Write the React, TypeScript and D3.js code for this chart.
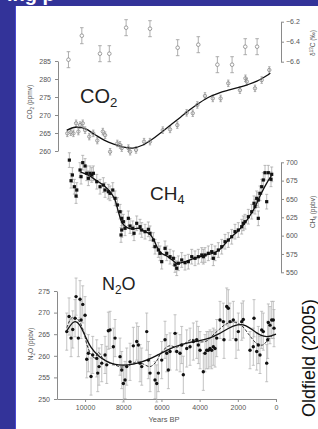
import React, { useRef, useEffect } from 'react';
import * as d3 from 'd3';

// axis ticks
const xTicks = [10000, 8000, 6000, 4000, 2000, 0];
const co2Ticks = [285, 280, 275, 270, 265, 260];
const d13cTicks = [-6.2, -6.4, -6.6];
const ch4Ticks = [700, 675, 650, 625, 600, 575, 550];
const n2oTicks = [275, 270, 265, 260, 255, 250];

// delta 13C of CO2 (permil)
const d13cYears = [10870, 10170, 9220, 8730, 7850, 6600, 5150, 4070, 3070, 2300, 1610, 990];
const d13cValues = [-6.58, -6.34, -6.52, -6.52, -6.26, -6.27, -6.46, -6.43, -6.63, -6.63, -6.45, -6.45];

// CO2 (ppmv)
const co2Years = [10930, 10750, 10610, 10470, 10350, 10260, 10120, 10000, 9780, 9570, 9360, 9070, 8950, 8690, 8310, 8170, 8080, 7730, 7640, 7330, 6910, 6600, 5930, 5550, 5170, 4680, 4360, 4120, 3720, 3310, 2900, 2500, 1890, 1600, 1530, 1100, 750, 350];
const co2Values = [264.9, 265.2, 264.9, 267.7, 265.4, 267.2, 267.7, 265.8, 264.0, 264.9, 262.9, 265.4, 264.4, 259.8, 262.1, 261.7, 260.8, 260.8, 259.8, 260.3, 262.6, 262.6, 265.8, 266.0, 267.2, 270.6, 270.5, 272.8, 275.3, 274.6, 274.6, 278.8, 276.9, 280.2, 279.3, 277.4, 279.7, 282.5];
const co2FitYears = [10950, 10500, 10000, 9500, 9000, 8500, 8000, 7500, 7000, 6500, 6000, 5500, 5000, 4500, 4000, 3500, 3000, 2500, 2000, 1500, 1000, 500, 300];
const co2FitValues = [265.8, 266.6, 266.2, 264.6, 263.0, 261.9, 261.1, 260.8, 261.6, 263.2, 265.2, 267.3, 269.4, 271.5, 273.4, 275.0, 276.1, 276.9, 277.6, 278.4, 279.4, 280.9, 281.6];

// CH4 (ppbv)
const ch4Years = [10823, 10666, 10734, 10561, 10435, 10472, 10263, 10121, 10001, 10210, 9912, 9739, 9650, 9566, 9828, 9388, 9215, 9043, 8954, 8781, 8692, 8550, 8430, 8309, 8168, 8079, 7995, 8079, 8116, 7906, 7734, 7645, 7503, 7435, 7294, 7121, 7032, 6859, 6686, 6597, 6425, 6336, 6163, 6074, 5985, 5812, 5723, 5550, 5377, 5288, 5199, 5116, 4938, 4765, 4592, 4414, 4241, 4068, 3890, 3718, 3545, 3367, 3194, 3021, 2843, 2670, 2498, 2320, 2147, 1974, 1796, 1623, 1450, 1272, 1100, 927, 927, 838, 749, 487, 665, 576, 403, 225, 262, 1152, 1011, 1712, 3283, 3806];
const ch4Values = [703, 682.7, 674.9, 666.7, 662.2, 654.0, 689.5, 699.5, 695.0, 680.4, 685.0, 685.0, 682.7, 685.0, 678.2, 673.5, 666.7, 669.0, 662.2, 659.9, 657.7, 662.2, 650.9, 641.8, 632.6, 623.6, 619.0, 607.7, 600.9, 610.0, 623.6, 613.1, 610.0, 603.2, 616.8, 612.2, 607.7, 605.4, 608.6, 603.2, 594.0, 584.9, 580.4, 575.9, 564.5, 582.7, 575.9, 571.3, 569.1, 560.0, 555.5, 562.3, 566.8, 563.1, 564.5, 571.3, 569.1, 571.3, 573.6, 573.6, 575.9, 578.1, 575.9, 580.4, 584.9, 591.7, 594.0, 598.5, 605.4, 607.7, 612.2, 619.0, 625.8, 632.6, 639.5, 648.6, 623.6, 657.7, 666.7, 646.3, 675.9, 685.8, 685.8, 683.6, 676.8, 644.1, 650.9, 616.8, 569.1, 571.3];
const ch4FitYears = [10250, 9800, 9400, 9000, 8700, 8450, 8250, 8050, 7800, 7500, 7200, 6900, 6600, 6400, 6200, 6000, 5700, 5400, 5200, 5000, 4700, 4400, 4000, 3600, 3200, 2900, 2600, 2300, 2000, 1700, 1400, 1100, 800, 500, 250];
const ch4FitValues = [687, 682, 675, 668, 660, 650, 632, 617, 611, 609, 610, 606, 602, 594, 583, 576, 572, 566, 562, 563, 565, 568, 571, 574, 577, 582, 591, 599, 606, 615, 626, 639, 656, 671, 681];

// N2O (ppbv)
const n2oYears = [10959, 10839, 10734, 10645, 10524, 10472, 10352, 10263, 10210, 10121, 10001, 9912, 9828, 9687, 9598, 9388, 9336, 9268, 8954, 8781, 9126, 8865, 8692, 8519, 8430, 8168, 8079, 7995, 7906, 7817, 7645, 7472, 7294, 7210, 7121, 7032, 6771, 6686, 6597, 6336, 6247, 6163, 5985, 5812, 5723, 5639, 5550, 5288, 5199, 5027, 4938, 4854, 4676, 4503, 4330, 4152, 4068, 3979, 3807, 3718, 3629, 3456, 3283, 3105, 2932, 2759, 2723, 2581, 2498, 2409, 2236, 2094, 1974, 1796, 1712, 1361, 1189, 1152, 1011, 927, 838, 749, 665, 487, 403, 314, 225, 141, 105, 435, 3194, 3367, 3545];
const n2oValues = [265.6, 269.1, 264.1, 266.1, 268.7, 273.7, 264.1, 273.1, 268.3, 271.9, 269.4, 259.2, 260.6, 255.2, 260.2, 259.4, 256.0, 257.5, 260.2, 265.8, 258.3, 257.9, 266.0, 262.1, 264.1, 259.8, 256.7, 253.6, 254.4, 257.5, 258.6, 262.3, 263.3, 262.5, 258.3, 257.5, 265.6, 259.0, 256.0, 254.4, 253.6, 256.0, 259.0, 263.7, 260.6, 256.7, 261.0, 265.2, 261.0, 260.6, 262.5, 255.6, 261.7, 262.1, 263.3, 263.7, 262.5, 261.3, 256.3, 260.6, 261.3, 261.7, 262.1, 264.1, 268.3, 267.9, 263.7, 271.4, 271.0, 267.9, 268.3, 263.7, 265.6, 267.9, 268.4, 261.3, 262.1, 268.7, 261.0, 262.5, 260.2, 266.0, 265.6, 258.3, 267.7, 267.1, 268.3, 268.3, 266.4, 263.7, 261.7, 261.3, 261.3];
const n2oFitYears = [10950, 10600, 10300, 10000, 9700, 9300, 8900, 8400, 8000, 7500, 7000, 6500, 6000, 5500, 5000, 4500, 4000, 3500, 3000, 2500, 2000, 1600, 1200, 800, 400, 0];
const n2oFitValues = [265.8, 268.3, 267.6, 264.6, 261.8, 259.9, 258.7, 257.9, 257.8, 258.0, 258.6, 259.5, 260.6, 261.8, 262.6, 263.1, 263.5, 264.0, 265.0, 266.4, 267.3, 267.2, 265.9, 264.6, 264.3, 265.0];
const n2oFit2Years = [10950, 10700, 10400, 10100, 9900, 9700, 9500, 9300, 9100, 8800, 8500, 8100, 7700, 7300, 7000, 6600, 6300, 6000, 5600, 5200, 4800, 4400, 4000, 3600, 3300, 3000, 2600, 2200, 1800, 1400, 1000, 700, 400, 100];
const n2oFit2Values = [266.5, 268.8, 268.5, 266.0, 262.5, 260.5, 259.5, 260.8, 259.6, 258.5, 258.0, 257.4, 257.8, 258.6, 258.2, 257.5, 258.5, 260.8, 262.3, 262.0, 262.8, 263.8, 263.2, 263.5, 264.8, 266.0, 267.4, 267.8, 267.0, 264.8, 262.8, 262.5, 263.8, 265.2];

const FONT = '"Liberation Sans", Arial, sans-serif';

const App: React.FC = () => {
  const svgRef = useRef<SVGSVGElement>(null);

  useEffect(() => {
    if (!svgRef.current) return;
    const svg = d3.select(svgRef.current);
    svg.selectAll('*').remove();

    const width = 318;
    const height = 429;

    // background
    svg.append('rect').attr('width', width).attr('height', height).attr('fill', '#333399');
    svg.append('rect').attr('x', 16).attr('y', 6).attr('width', width - 16).attr('height', height - 6).attr('fill', '#ffffff');
    svg.append('line').attr('x1', 15.5).attr('x2', 15.5).attr('y1', 6).attr('y2', height)
      .attr('stroke', '#4a4ad2').attr('stroke-width', 1);

    // slide title, cut off by the top edge (only the descenders show)
    svg.append('text').attr('x', 7).attr('y', 1)
      .attr('fill', '#ffffff').style('font-family', FONT).style('font-size', '20px').style('font-weight', 'bold')
      .text('ing p');

    // scales
    const x = d3.scaleLinear().domain([11470, 0]).range([57, 276]);
    const yD13C = d3.scaleLinear().domain([-6.2, -6.6]).range([21.7, 61.7]);
    const yCO2 = d3.scaleLinear().domain([285, 260]).range([61, 151]);
    const yCH4 = d3.scaleLinear().domain([700, 550]).range([162.3, 272.3]);
    const yN2O = d3.scaleLinear().domain([275, 250]).range([291, 399]);

    const styleAxis = (g: d3.Selection<SVGGElement, unknown, null, undefined>) => {
      g.select('.domain').attr('stroke', '#8a8a8a').attr('stroke-width', 1);
      g.selectAll('.tick line').attr('stroke', '#8a8a8a').attr('stroke-width', 1);
      g.selectAll('.tick text').attr('fill', '#555').style('font-family', FONT).style('font-size', '7px');
    };

    // axes
    const gCO2 = svg.append('g').attr('transform', 'translate(58,0)')
      .call(d3.axisLeft(yCO2).tickValues(co2Ticks).tickSize(3).tickSizeOuter(0).tickPadding(4).tickFormat(d3.format('d')) as any);
    styleAxis(gCO2 as any);

    const gD13C = svg.append('g').attr('transform', 'translate(281,0)')
      .call(d3.axisRight(yD13C).tickValues(d13cTicks).tickSize(3).tickSizeOuter(0).tickPadding(2).tickFormat(d3.format('.1f')) as any);
    styleAxis(gD13C as any);

    const gCH4 = svg.append('g').attr('transform', 'translate(281,0)')
      .call(d3.axisRight(yCH4).tickValues(ch4Ticks).tickSize(3).tickSizeOuter(0).tickPadding(2).tickFormat(d3.format('d')) as any);
    styleAxis(gCH4 as any);

    const gN2O = svg.append('g').attr('transform', 'translate(57,0)')
      .call(d3.axisLeft(yN2O).tickValues(n2oTicks).tickSize(3).tickSizeOuter(0).tickPadding(4).tickFormat(d3.format('d')) as any);
    styleAxis(gN2O as any);

    const gX = svg.append('g').attr('transform', 'translate(0,399)')
      .call(d3.axisBottom(x).tickValues(xTicks).tickSize(3).tickSizeOuter(0).tickPadding(3).tickFormat(d3.format('d')) as any);
    styleAxis(gX as any);

    // axis titles
    const rotLabel = (px: number, py: number, main: string, sub: string, sup: string, rest: string) => {
      const t = svg.append('text')
        .attr('transform', `translate(${px},${py}) rotate(-90)`)
        .attr('text-anchor', 'middle')
        .attr('fill', '#555')
        .style('font-family', FONT)
        .style('font-size', '6.5px');
      if (sup) {
        t.append('tspan').text('δ');
        t.append('tspan').attr('dy', -2).style('font-size', '4.5px').text(sup);
        t.append('tspan').attr('dy', 2).text(main + rest);
      } else {
        t.append('tspan').text(main);
        t.append('tspan').attr('dy', 1.5).style('font-size', '4.5px').text(sub);
        t.append('tspan').attr('dy', -1.5).text(rest);
      }
    };
    rotLabel(32, 102, 'CO', '2', '', ' (ppmv)');
    rotLabel(315, 43, 'C', '', '13', ' (‰)');
    rotLabel(315, 212, 'CH', '4', '', ' (ppbv)');
    rotLabel(33, 344, 'N', '2', '', 'O (ppbv)');

    // error bars helper
    const errBars = (xs: number[], ys: number[], yScale: d3.ScaleLinear<number, number>, err: number, color: string, cap: number) => {
      const g = svg.append('g').attr('stroke', color).attr('stroke-width', 0.8).attr('fill', 'none');
      xs.forEach((yr, i) => {
        const cx = x(yr);
        const y1 = yScale(ys[i] + err);
        const y2 = yScale(ys[i] - err);
        g.append('line').attr('x1', cx).attr('x2', cx).attr('y1', y1).attr('y2', y2);
        g.append('line').attr('x1', cx - cap).attr('x2', cx + cap).attr('y1', y1).attr('y2', y1);
        g.append('line').attr('x1', cx - cap).attr('x2', cx + cap).attr('y1', y2).attr('y2', y2);
      });
    };

    const line = (yScale: d3.ScaleLinear<number, number>, curve: d3.CurveFactory) => d3.line<[number, number]>()
      .x(d => x(d[0]))
      .y(d => yScale(d[1]))
      .curve(curve);

    // delta 13C
    errBars(d13cYears, d13cValues, yD13C, 0.08, '#9a9a9a', 1.8);
    svg.append('g').selectAll('circle').data(d13cYears).join('circle')
      .attr('cx', d => x(d)).attr('cy', (_, i) => yD13C(d13cValues[i])).attr('r', 1.8)
      .attr('fill', '#fff').attr('stroke', '#888').attr('stroke-width', 0.8);

    // CO2
    errBars(co2Years, co2Values, yCO2, 0.9, '#9a9a9a', 1.2);
    svg.append('path').datum(co2FitYears.map((d, i) => [d, co2FitValues[i]] as [number, number]))
      .attr('fill', 'none').attr('stroke', '#111').attr('stroke-width', 1.3)
      .attr('d', line(yCO2, d3.curveCatmullRom.alpha(0.5)));
    svg.append('g').selectAll('circle').data(co2Years).join('circle')
      .attr('cx', d => x(d)).attr('cy', (_, i) => yCO2(co2Values[i])).attr('r', 1.7)
      .attr('fill', 'none').attr('stroke', '#888').attr('stroke-width', 0.8);

    // CH4
    errBars(ch4Years, ch4Values, yCH4, 10, '#a8a8a8', 1.5);
    svg.append('path').datum(ch4FitYears.map((d, i) => [d, ch4FitValues[i]] as [number, number]))
      .attr('fill', 'none').attr('stroke', '#111').attr('stroke-width', 1.3)
      .attr('d', line(yCH4, d3.curveCatmullRom.alpha(0.5)));
    svg.append('g').selectAll('rect').data(ch4Years).join('rect')
      .attr('x', d => x(d) - 1.6).attr('y', (_, i) => yCH4(ch4Values[i]) - 1.6)
      .attr('width', 3.2).attr('height', 3.2).attr('fill', '#111');

    // N2O
    errBars(n2oYears, n2oValues, yN2O, 4.3, '#b4b4b4', 1.5);
    svg.append('path').datum(n2oFitYears.map((d, i) => [d, n2oFitValues[i]] as [number, number]))
      .attr('fill', 'none').attr('stroke', '#111').attr('stroke-width', 1.3)
      .attr('d', line(yN2O, d3.curveBasis));
    svg.append('path').datum(n2oFit2Years.map((d, i) => [d, n2oFit2Values[i]] as [number, number]))
      .attr('fill', 'none').attr('stroke', '#222').attr('stroke-width', 0.9).attr('stroke-dasharray', '3,1.5')
      .attr('d', line(yN2O, d3.curveCatmullRom.alpha(0.5)));
    svg.append('g').selectAll('circle').data(n2oYears).join('circle')
      .attr('cx', d => x(d)).attr('cy', (_, i) => yN2O(n2oValues[i])).attr('r', 1.7)
      .attr('fill', '#111');

    // gas labels
    const gasLabel = (px: number, py: number, size: number, parts: [string, boolean][]) => {
      const t = svg.append('text').attr('x', px).attr('y', py).attr('fill', '#222')
        .style('font-family', FONT).style('font-size', `${size}px`);
      let shifted = false;
      parts.forEach(([s, sub]) => {
        const ts = t.append('tspan').text(s);
        if (sub && !shifted) { ts.attr('dy', size * 0.22).style('font-size', `${size * 0.66}px`); shifted = true; }
        else if (!sub && shifted) { ts.attr('dy', -size * 0.22); shifted = false; }
      });
    };
    gasLabel(80, 103, 20, [['CO', false], ['2', true]]);
    gasLabel(150, 200, 19, [['CH', false], ['4', true]]);
    gasLabel(102, 290, 18, [['N', false], ['2', true], ['O', false]]);

    // x label
    svg.append('text').attr('x', 164).attr('y', 422).attr('text-anchor', 'middle')
      .attr('fill', '#555').style('font-family', FONT).style('font-size', '7.5px').text('Years BP');

    // source
    svg.append('text').attr('transform', 'translate(315,358) rotate(-90)').attr('text-anchor', 'middle')
      .attr('fill', '#111').style('font-family', FONT).style('font-size', '18px').text('Oldfield (2005)');
  }, []);

  return (
    <div style={{ position: 'absolute', left: 0, top: 0 }}>
      <svg ref={svgRef} width={318} height={429} style={{ display: 'block' }} />
    </div>
  );
};

export default App;
